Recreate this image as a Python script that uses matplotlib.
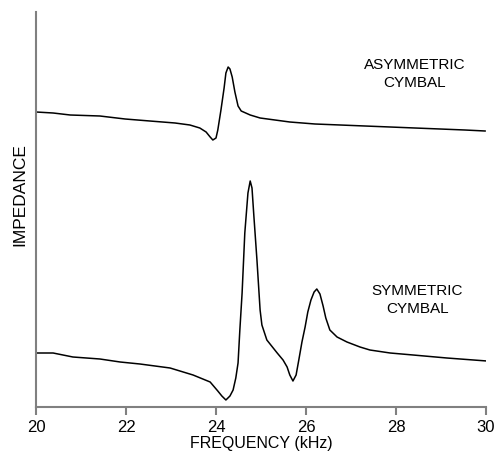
import numpy as np
import matplotlib
matplotlib.use("Agg")
import matplotlib.pyplot as plt

plt.rcParams['font.family'] = ['Liberation Sans', 'DejaVu Sans']

# asymmetric cymbal trace (frequency kHz, impedance arb. units)
asym_f = [20.0, 20.38, 20.76, 21.42, 21.98, 22.53, 23.09, 23.42, 23.64, 23.78,
          23.87, 23.93, 24.0, 24.04, 24.11, 24.18, 24.22, 24.27, 24.31, 24.36,
          24.42, 24.49, 24.56, 24.76, 24.98, 25.31, 25.64, 26.2, 26.76, 27.31,
          27.87, 28.42, 28.98, 29.53, 29.98]
asym_z = [295, 294, 292, 291, 288, 286, 284, 282, 279, 275,
          270, 267, 269, 277, 297, 319, 334, 340, 338, 330,
          315, 301, 296, 292, 289, 287, 285, 283, 282, 281,
          280, 279, 278, 277, 276]

# symmetric cymbal trace
sym_f = [20.0, 20.38, 20.82, 21.42, 21.87, 22.31, 22.98, 23.49, 23.87, 24.04,
         24.13, 24.22, 24.31, 24.38, 24.44, 24.49, 24.53, 24.58, 24.64, 24.71,
         24.76, 24.8, 24.84, 24.91, 24.98, 25.02, 25.13, 25.36, 25.49, 25.58,
         25.64, 25.71, 25.78, 25.84, 25.91, 25.98, 26.04, 26.11, 26.18, 26.24,
         26.31, 26.38, 26.44, 26.53, 26.69, 26.91, 27.2, 27.42, 27.87, 28.38,
         29.13, 30.02]
sym_z = [54, 54, 50, 48, 45, 43, 39, 32, 25, 16,
         11, 7, 11, 17, 29, 44, 77, 114, 174, 214,
         226, 219, 192, 147, 97, 82, 67, 54, 47, 40,
         32, 26, 32, 47, 65, 80, 95, 107, 115, 118,
         113, 101, 89, 77, 70, 65, 60, 57, 54, 52,
         49, 46]

fig = plt.figure(figsize=(4.96, 4.62), dpi=100)
ax = fig.add_axes([36/496, 55/462, 450/496, 395/462])

ax.plot(asym_f, asym_z, color='black', lw=1.1, solid_joinstyle='round')
ax.plot(sym_f, sym_z, color='black', lw=1.1, solid_joinstyle='round')

ax.set_xlim(20, 30)
ax.set_ylim(0, 395)
ax.set_xticks([20, 22, 24, 26, 28, 30])
ax.set_yticks([])
ax.tick_params(axis='x', direction='out', length=6, width=1.5, color='#808080',
               labelsize=12, pad=3)
for s in ['top', 'right']:
    ax.spines[s].set_visible(False)
for s in ['left', 'bottom']:
    ax.spines[s].set_color('#808080')
    ax.spines[s].set_linewidth(1.5)

ax.set_xlabel('FREQUENCY (kHz)', fontsize=11.5, labelpad=1)
fig.text(20/496, 1 - 195/462, 'IMPEDANCE', rotation=90, fontsize=12.5,
         ha='center', va='center')

ax.text(28.42, 333, 'ASYMMETRIC\nCYMBAL', ha='center', va='center',
        fontsize=11, linespacing=1.45)
ax.text(28.47, 107, 'SYMMETRIC\nCYMBAL', ha='center', va='center',
        fontsize=11, linespacing=1.45)

fig.savefig('out.png', dpi=100)
